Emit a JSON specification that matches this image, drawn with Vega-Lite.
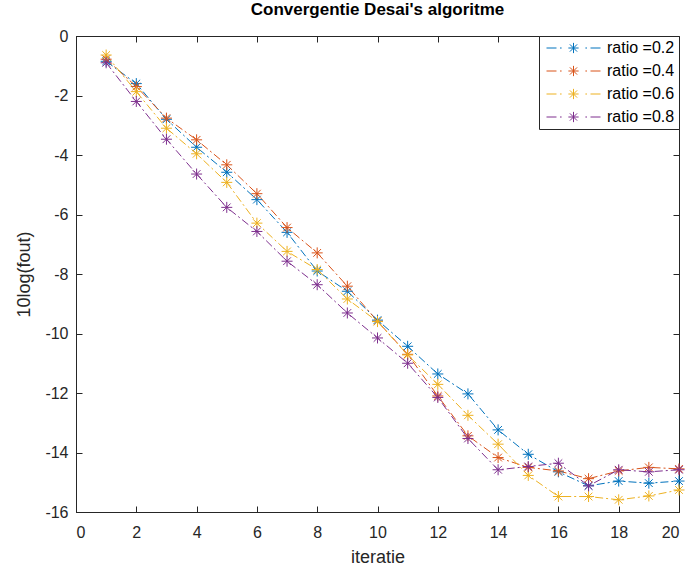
{
  "$schema": "https://vega.github.io/schema/vega-lite/v6.json",
  "width": 603,
  "height": 476,
  "autosize": "none",
  "padding": {"left": 76, "top": 36, "right": 13, "bottom": 64},
  "title": {"text": "Convergentie Desai's algoritme", "fontSize": 17, "fontWeight": "bold", "font": "Liberation Sans", "color": "#000000", "offset": 9},
  "config": {
    "font": "Liberation Sans",
    "view": {"stroke": "#262626", "strokeWidth": 1},
    "axis": {
      "domainColor": "#262626", "tickColor": "#262626", "labelColor": "#262626", "titleColor": "#262626",
      "grid": false, "labelFontSize": 16, "titleFontSize": 18, "titleFontWeight": "normal",
      "tickSize": -6, "labelFont": "Liberation Sans", "titleFont": "Liberation Sans"
    },
    "legend": {
      "orient": "top-right", "offset": 0, "padding": 4,
      "strokeColor": "#262626", "fillColor": "white",
      "symbolType": "M-1,0L-0.63,0M-0.5,0L-0.44,0M-0.19,0L0.19,0M0,-0.19L0,0.19M-0.134,-0.134L0.134,0.134M-0.134,0.134L0.134,-0.134M0.44,0L0.5,0M0.63,0L1,0",
      "symbolSize": 2916, "symbolStrokeWidth": 1, "symbolOffset": 3, "labelFontSize": 16, "labelOffset": 6,
      "labelColor": "#000000", "clipHeight": 16, "rowPadding": 7
    }
  },
  "data": {"values": [
    {"iteratie": 1, "reeks": "ratio =0.2", "fout": -0.85},
    {"iteratie": 2, "reeks": "ratio =0.2", "fout": -1.6},
    {"iteratie": 3, "reeks": "ratio =0.2", "fout": -2.8},
    {"iteratie": 4, "reeks": "ratio =0.2", "fout": -3.74},
    {"iteratie": 5, "reeks": "ratio =0.2", "fout": -4.58},
    {"iteratie": 6, "reeks": "ratio =0.2", "fout": -5.5},
    {"iteratie": 7, "reeks": "ratio =0.2", "fout": -6.6},
    {"iteratie": 8, "reeks": "ratio =0.2", "fout": -7.9},
    {"iteratie": 9, "reeks": "ratio =0.2", "fout": -8.58},
    {"iteratie": 10, "reeks": "ratio =0.2", "fout": -9.55},
    {"iteratie": 11, "reeks": "ratio =0.2", "fout": -10.43},
    {"iteratie": 12, "reeks": "ratio =0.2", "fout": -11.36},
    {"iteratie": 13, "reeks": "ratio =0.2", "fout": -12.03},
    {"iteratie": 14, "reeks": "ratio =0.2", "fout": -13.24},
    {"iteratie": 15, "reeks": "ratio =0.2", "fout": -14.06},
    {"iteratie": 16, "reeks": "ratio =0.2", "fout": -14.65},
    {"iteratie": 17, "reeks": "ratio =0.2", "fout": -15.12},
    {"iteratie": 18, "reeks": "ratio =0.2", "fout": -14.96},
    {"iteratie": 19, "reeks": "ratio =0.2", "fout": -15.03},
    {"iteratie": 20, "reeks": "ratio =0.2", "fout": -14.96},
    {"iteratie": 1, "reeks": "ratio =0.4", "fout": -0.78},
    {"iteratie": 2, "reeks": "ratio =0.4", "fout": -1.7},
    {"iteratie": 3, "reeks": "ratio =0.4", "fout": -2.76},
    {"iteratie": 4, "reeks": "ratio =0.4", "fout": -3.49},
    {"iteratie": 5, "reeks": "ratio =0.4", "fout": -4.33},
    {"iteratie": 6, "reeks": "ratio =0.4", "fout": -5.3},
    {"iteratie": 7, "reeks": "ratio =0.4", "fout": -6.44},
    {"iteratie": 8, "reeks": "ratio =0.4", "fout": -7.29},
    {"iteratie": 9, "reeks": "ratio =0.4", "fout": -8.41},
    {"iteratie": 10, "reeks": "ratio =0.4", "fout": -9.59},
    {"iteratie": 11, "reeks": "ratio =0.4", "fout": -10.7},
    {"iteratie": 12, "reeks": "ratio =0.4", "fout": -12.1},
    {"iteratie": 13, "reeks": "ratio =0.4", "fout": -13.44},
    {"iteratie": 14, "reeks": "ratio =0.4", "fout": -14.17},
    {"iteratie": 15, "reeks": "ratio =0.4", "fout": -14.5},
    {"iteratie": 16, "reeks": "ratio =0.4", "fout": -14.62},
    {"iteratie": 17, "reeks": "ratio =0.4", "fout": -14.88},
    {"iteratie": 18, "reeks": "ratio =0.4", "fout": -14.62},
    {"iteratie": 19, "reeks": "ratio =0.4", "fout": -14.5},
    {"iteratie": 20, "reeks": "ratio =0.4", "fout": -14.55},
    {"iteratie": 1, "reeks": "ratio =0.6", "fout": -0.64},
    {"iteratie": 2, "reeks": "ratio =0.6", "fout": -1.87},
    {"iteratie": 3, "reeks": "ratio =0.6", "fout": -3.1},
    {"iteratie": 4, "reeks": "ratio =0.6", "fout": -3.96},
    {"iteratie": 5, "reeks": "ratio =0.6", "fout": -4.92},
    {"iteratie": 6, "reeks": "ratio =0.6", "fout": -6.29},
    {"iteratie": 7, "reeks": "ratio =0.6", "fout": -7.24},
    {"iteratie": 8, "reeks": "ratio =0.6", "fout": -7.85},
    {"iteratie": 9, "reeks": "ratio =0.6", "fout": -8.84},
    {"iteratie": 10, "reeks": "ratio =0.6", "fout": -9.6},
    {"iteratie": 11, "reeks": "ratio =0.6", "fout": -10.72},
    {"iteratie": 12, "reeks": "ratio =0.6", "fout": -11.71},
    {"iteratie": 13, "reeks": "ratio =0.6", "fout": -12.75},
    {"iteratie": 14, "reeks": "ratio =0.6", "fout": -13.72},
    {"iteratie": 15, "reeks": "ratio =0.6", "fout": -14.77},
    {"iteratie": 16, "reeks": "ratio =0.6", "fout": -15.48},
    {"iteratie": 17, "reeks": "ratio =0.6", "fout": -15.48},
    {"iteratie": 18, "reeks": "ratio =0.6", "fout": -15.59},
    {"iteratie": 19, "reeks": "ratio =0.6", "fout": -15.46},
    {"iteratie": 20, "reeks": "ratio =0.6", "fout": -15.26},
    {"iteratie": 1, "reeks": "ratio =0.8", "fout": -0.9},
    {"iteratie": 2, "reeks": "ratio =0.8", "fout": -2.2},
    {"iteratie": 3, "reeks": "ratio =0.8", "fout": -3.47},
    {"iteratie": 4, "reeks": "ratio =0.8", "fout": -4.64},
    {"iteratie": 5, "reeks": "ratio =0.8", "fout": -5.76},
    {"iteratie": 6, "reeks": "ratio =0.8", "fout": -6.57},
    {"iteratie": 7, "reeks": "ratio =0.8", "fout": -7.57},
    {"iteratie": 8, "reeks": "ratio =0.8", "fout": -8.36},
    {"iteratie": 9, "reeks": "ratio =0.8", "fout": -9.31},
    {"iteratie": 10, "reeks": "ratio =0.8", "fout": -10.15},
    {"iteratie": 11, "reeks": "ratio =0.8", "fout": -11.0},
    {"iteratie": 12, "reeks": "ratio =0.8", "fout": -12.15},
    {"iteratie": 13, "reeks": "ratio =0.8", "fout": -13.53},
    {"iteratie": 14, "reeks": "ratio =0.8", "fout": -14.58},
    {"iteratie": 15, "reeks": "ratio =0.8", "fout": -14.47},
    {"iteratie": 16, "reeks": "ratio =0.8", "fout": -14.36},
    {"iteratie": 17, "reeks": "ratio =0.8", "fout": -15.12},
    {"iteratie": 18, "reeks": "ratio =0.8", "fout": -14.58},
    {"iteratie": 19, "reeks": "ratio =0.8", "fout": -14.65},
    {"iteratie": 20, "reeks": "ratio =0.8", "fout": -14.58}
  ]},
  "layer": [
    {
      "mark": {"type": "line", "strokeDash": [8, 3, 2, 3], "strokeWidth": 1},
      "encoding": {
        "x": {"field": "iteratie", "type": "quantitative", "scale": {"domain": [0, 20], "nice": false},
              "axis": {"orient": "bottom", "values": [0, 2, 4, 6, 8, 10, 12, 14, 16, 18, 20], "title": "iteratie", "labelPadding": 18, "titlePadding": 8, "labelExpr": "'' + datum.value"}},
        "y": {"field": "fout", "type": "quantitative", "scale": {"domain": [-16, 0], "nice": false},
              "axis": {"orient": "left", "values": [-16, -14, -12, -10, -8, -6, -4, -2, 0], "title": "10log(fout)", "labelPadding": 14, "titlePadding": 11, "labelExpr": "'' + datum.value"}},
        "color": {"field": "reeks", "type": "nominal",
                  "scale": {"domain": ["ratio =0.2", "ratio =0.4", "ratio =0.6", "ratio =0.8"], "range": ["#0072BD", "#D95319", "#EDB120", "#7E2F8E"]},
                  "legend": {"title": null}}
      }
    },
    {
      "mark": {"type": "point", "shape": "M-1,0L1,0M0,-1L0,1M-0.7,-0.7L0.7,0.7M-0.7,0.7L0.7,-0.7", "filled": false, "size": 121, "strokeWidth": 1, "opacity": 1},
      "encoding": {
        "x": {"field": "iteratie", "type": "quantitative", "scale": {"domain": [0, 20], "nice": false},
              "axis": {"orient": "top", "values": [0, 2, 4, 6, 8, 10, 12, 14, 16, 18, 20], "labels": false, "title": null}},
        "y": {"field": "fout", "type": "quantitative", "scale": {"domain": [-16, 0], "nice": false},
              "axis": {"orient": "right", "values": [-16, -14, -12, -10, -8, -6, -4, -2, 0], "labels": false, "title": null}},
        "color": {"field": "reeks", "type": "nominal",
                  "scale": {"domain": ["ratio =0.2", "ratio =0.4", "ratio =0.6", "ratio =0.8"], "range": ["#0072BD", "#D95319", "#EDB120", "#7E2F8E"]},
                  "legend": {"title": null}}
      }
    }
  ],
  "resolve": {"axis": {"x": "independent", "y": "independent"}}
}
